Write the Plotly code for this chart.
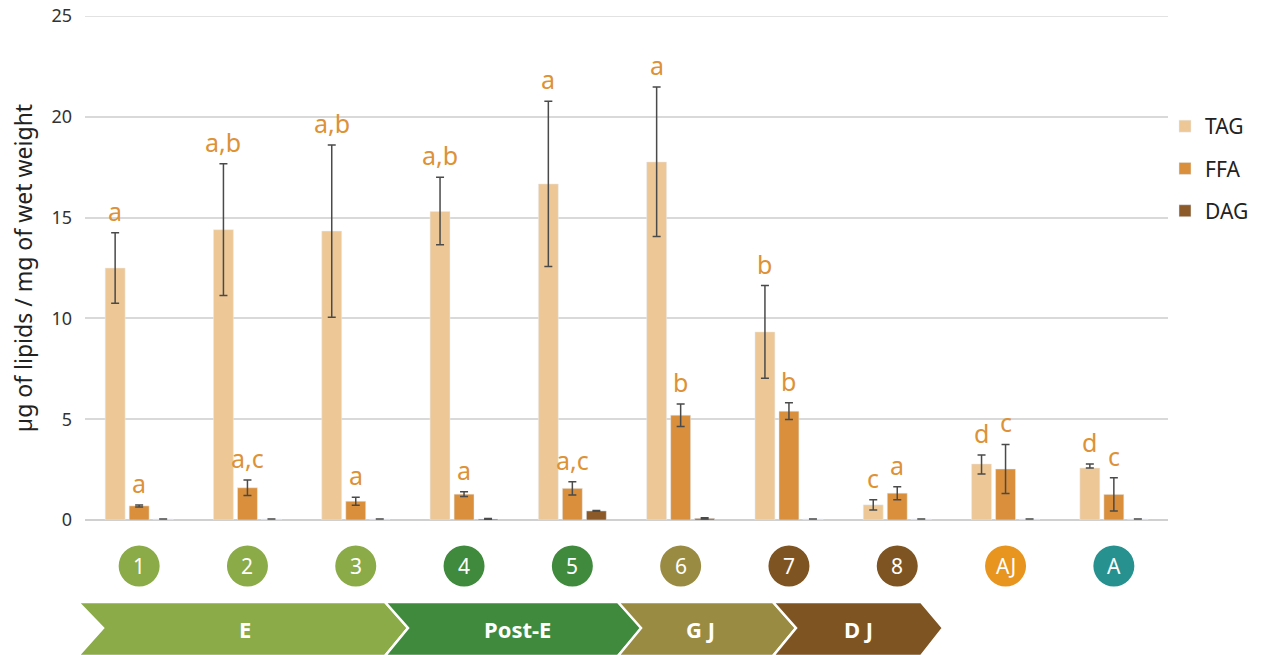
import plotly.graph_objects as go

categories = ["1", "2", "3", "4", "5", "6", "7", "8", "AJ", "A"]
tag_values = [12.5, 14.4, 14.33, 15.3, 16.67, 17.76, 9.33, 0.75, 2.78, 2.58]
tag_err_plus = [1.75, 3.27, 4.27, 1.7, 4.1, 3.72, 2.3, 0.25, 0.45, 0.2]
tag_err_minus = [1.75, 3.27, 4.27, 1.65, 4.1, 3.7, 2.3, 0.25, 0.5, 0.0]
ffa_values = [0.7, 1.6, 0.93, 1.28, 1.57, 5.2, 5.4, 1.33, 2.53, 1.27]
ffa_err = [0.05, 0.38, 0.2, 0.12, 0.33, 0.56, 0.42, 0.32, 1.22, 0.82]
dag_values = [0.05, 0.05, 0.05, 0.05, 0.45, 0.08, 0.05, 0.05, 0.05, 0.05]
dag_err = [0, 0, 0, 0.02, 0.02, 0.03, 0, 0, 0, 0]
dag_visible = [False, False, False, True, True, True, False, False, False, False]
tag_letters = ["a", "a,b", "a,b", "a,b", "a", "a", "b", "c", "d", "d"]
ffa_letters = ["a", "a,c", "a", "a", "a,c", "b", "b", "a", "c", "c"]
stage_colors = ["#8aab48", "#8aab48", "#8aab48", "#3f8a3c", "#3f8a3c",
                "#9a8b43", "#7e5422", "#7e5422", "#e8951f", "#26918f"]
phases = ["E", "Post-E", "G J", "D J"]
phase_colors = ["#8aab48", "#3f8a3c", "#9a8b43", "#7e5422"]
y_ticks = [0, 5, 10, 15, 20, 25]

TAG_C, FFA_C, DAG_C = "#edc896", "#d98f3b", "#8b5a28"
LETTER_C = "#dd9236"
FONT = "Noto Sans"
GRID_C = "#d9d9d9"

W, H = 1264, 655
L, R, T, B = 85, 96, 16, 135
pw, ph = W - L - R, H - T - B


def px(x):
    return (x - L) / pw


def py(y):
    return (T + ph - y) / ph


fig = go.Figure()
err_style = dict(color="#4a4a4a", thickness=1.5, width=4)
fig.add_bar(name="TAG", x=categories, y=tag_values, marker_color=TAG_C,
            error_y=dict(type="data", symmetric=False, array=tag_err_plus,
                         arrayminus=tag_err_minus, **err_style),
            legendgroup="t", offsetgroup="t")
fig.add_bar(name="FFA", x=categories, y=ffa_values, marker_color=FFA_C,
            error_y=dict(type="data", array=ffa_err, **err_style),
            legendgroup="f", offsetgroup="f")
fig.add_bar(name="DAG", x=categories, y=dag_values,
            marker_color=[DAG_C if v else "#d6d6d6" for v in dag_visible],
            error_y=dict(type="data", array=dag_err, **err_style),
            legendgroup="d", offsetgroup="d", showlegend=False)
# legend entry for DAG (solid colour), shares the DAG slot
fig.add_bar(name="DAG", x=[categories[0]], y=[None], marker_color=DAG_C,
            legendgroup="d", offsetgroup="d", showlegend=True, hoverinfo="skip")

annotations = []
shapes = [dict(type="line", xref="paper", yref="y", x0=0, x1=1,
               y0=y_ticks[-1], y1=y_ticks[-1], line=dict(color=GRID_C, width=1.5),
               layer="below")]
cy = py(566)
for i, c in enumerate(categories):
    annotations.append(dict(x=i, y=tag_values[i] + tag_err_plus[i], text=tag_letters[i],
                            xref="x", yref="y", xanchor="center", yanchor="bottom",
                            showarrow=False, xshift=-24, yshift=3,
                            font=dict(color=LETTER_C, size=25, family=FONT)))
    annotations.append(dict(x=i, y=ffa_values[i] + ffa_err[i], text=ffa_letters[i],
                            xref="x", yref="y", xanchor="center", yanchor="bottom",
                            showarrow=False, xshift=0, yshift=3,
                            font=dict(color=LETTER_C, size=25, family=FONT)))
    # stage circle
    shapes.append(dict(type="circle", xref="x", yref="paper",
                       xsizemode="pixel", ysizemode="pixel", xanchor=i, yanchor=cy,
                       x0=-20.5, x1=20.5, y0=-20.5, y1=20.5,
                       fillcolor=stage_colors[i], line=dict(width=0)))
    annotations.append(dict(x=i, y=cy, xref="x", yref="paper", text=c,
                            xanchor="center", yanchor="middle", showarrow=False,
                            font=dict(color="white", size=21, family=FONT)))

# phase chevrons (pixel coordinates)
chevrons = [
    (78, 385, 408, True),
    (385, 618, 642, False),
    (618, 773, 796, False),
    (773, 921, 943, False),
]
label_x = [245, 517, 700, 858]
top, mid, bot = 602, 628, 656
for (x0, x1, tip, first), col, name, lx in zip(chevrons, phase_colors, phases, label_x):
    notch = x0 + 25 if first else x0 + 23
    pts = [(x0, top), (x1, top), (tip, mid), (x1, bot), (x0, bot), (notch, mid)]
    path = "M " + " L ".join(f"{px(a):.5f},{py(b):.5f}" for a, b in pts) + " Z"
    shapes.append(dict(type="path", path=path, xref="paper", yref="paper",
                       fillcolor=col, line=dict(color="white", width=2.5), layer="above"))
    annotations.append(dict(x=px(lx), y=py(mid + 1), xref="paper", yref="paper",
                            xanchor="center", yanchor="middle",
                            text=f"<b>{name}</b>", showarrow=False,
                            font=dict(color="white", size=22, family=FONT)))

fig.update_layout(
    width=W, height=H,
    margin=dict(l=L, r=R, t=T, b=B, autoexpand=False),
    paper_bgcolor="white", plot_bgcolor="white",
    barmode="group", bargap=0.335, bargroupgap=0.17,
    font=dict(family=FONT, color="#333333"),
    shapes=shapes, annotations=annotations,
    legend=dict(x=px(1165), y=py(106), xanchor="left", yanchor="top",
                font=dict(size=21, color="#222222", family=FONT),
                tracegroupgap=12, itemwidth=30, bgcolor="rgba(0,0,0,0)"),
    xaxis=dict(type="category", showticklabels=False, showgrid=False, zeroline=False,
               showline=False, ticks="", automargin=False),
    yaxis=dict(range=[0, 25], tickvals=y_ticks, showgrid=True,
               gridcolor=GRID_C, gridwidth=1.5, zeroline=True, zerolinecolor="#d0d0d0",
               zerolinewidth=1.5, ticks="", tickfont=dict(size=18, color="#333333"),
               ticklabeloverflow="allow", ticklabelstandoff=12, automargin=False,
               title=dict(text="µg of lipids / mg of wet weight",
                          font=dict(size=23, color="#222222"), standoff=12)),
)

fig.write_html("out.html", config={"displayModeBar": False},
               post_script="document.body.style.margin='0px';")
